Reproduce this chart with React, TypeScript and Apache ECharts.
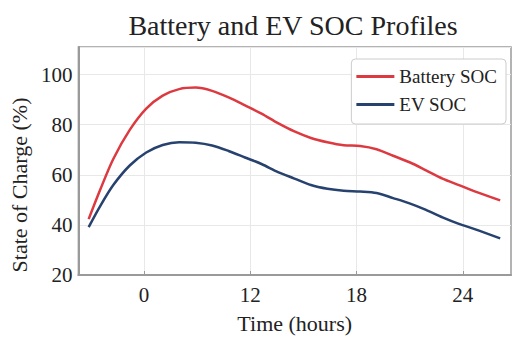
import React, { useEffect, useRef } from "react";
import * as echarts from "echarts";

const titleText = "Battery and EV SOC Profiles";
const xAxisName = "Time (hours)";
const yAxisName = "State of Charge (%)";
const seriesNames = ["Battery SOC", "EV SOC"];

// positions of the x ticks on the axis and the labels printed under them
const xTickValues = [6, 12, 18, 24];
const xTickLabels = ["0", "12", "18", "24"];

const timeHours = [2.87, 3.52, 4.26, 5.19, 6.12, 7.05, 7.98, 8.91, 9.84, 10.77, 11.7, 12.63, 13.56, 14.49, 15.42, 16.35, 17.27, 18.2, 19.13, 20.06, 20.99, 21.92, 22.85, 23.78, 24.71, 26.11];
const batterySoc = [42.3, 54.0, 66.3, 77.9, 86.4, 91.6, 94.2, 94.8, 93.5, 90.9, 87.7, 84.4, 80.6, 77.3, 74.7, 73.0, 71.8, 71.5, 70.2, 67.6, 65.0, 61.8, 58.5, 55.9, 53.3, 49.8];
const evSoc = [39.1, 47.5, 55.9, 63.7, 68.9, 71.9, 73.0, 72.8, 71.7, 69.5, 66.9, 64.3, 61.1, 58.5, 55.9, 54.4, 53.6, 53.3, 52.7, 50.7, 48.6, 46.0, 43.0, 40.4, 38.2, 34.6];

const FONT = "'Liberation Serif', 'DejaVu Serif', serif";
const RED = "#dc3a40";
const BLUE = "#27426f";

export default function App() {
  const ref = useRef<HTMLDivElement>(null);
  useEffect(() => {
    if (!ref.current) return;
    const chart = echarts.init(ref.current, null, { renderer: "svg" });
    chart.setOption({
      animation: false,
      backgroundColor: "#ffffff",
      title: {
        text: titleText,
        left: 288,
        top: 6,
        textAlign: "center",
        textStyle: { fontFamily: FONT, fontSize: 28, fontWeight: "normal", color: "#222" },
      },
      legend: {
        orient: "vertical",
        right: 9,
        top: 59,
        data: seriesNames,
        icon: "rect",
        itemWidth: 38,
        itemHeight: 3,
        itemGap: 9,
        padding: [8, 9, 10, 5],
        backgroundColor: "#ffffff",
        borderColor: "#cccccc",
        borderWidth: 1,
        borderRadius: 4,
        textStyle: { fontFamily: FONT, fontSize: 19, color: "#222" },
      },
      grid: {
        left: 73,
        right: 4,
        top: 47,
        bottom: 60,
        show: true,
        borderColor: "#9a9a9a",
        borderWidth: 1.5,
      },
      xAxis: {
        type: "value",
        min: 2.29,
        max: 26.72,
        name: xAxisName,
        nameLocation: "middle",
        nameGap: 37,
        nameTextStyle: { fontFamily: FONT, fontSize: 22, color: "#222" },
        axisLine: { show: true, lineStyle: { color: "#9a9a9a", width: 2 } },
        axisTick: { show: true, inside: true, length: 4, customValues: xTickValues, lineStyle: { color: "#9a9a9a" } },
        axisLabel: {
          customValues: xTickValues,
          margin: 9,
          fontFamily: FONT,
          fontSize: 21,
          color: "#222",
          formatter: (v: number) => {
            const i = xTickValues.indexOf(v);
            return i >= 0 ? xTickLabels[i] : "";
          },
        },
        splitLine: { show: true, lineStyle: { color: "#e8e8e8", width: 1 } },
      },
      yAxis: {
        type: "value",
        min: 20,
        max: 111,
        interval: 20,
        name: yAxisName,
        nameLocation: "middle",
        nameRotate: 90,
        nameGap: 42,
        nameTextStyle: { fontFamily: FONT, fontSize: 22, color: "#222", padding: [0, 48, 0, 0] },
        axisLine: { show: true, lineStyle: { color: "#9a9a9a", width: 2 } },
        axisTick: { show: false },
        axisLabel: {
          margin: 6,
          fontFamily: FONT,
          fontSize: 21,
          color: "#222",
          showMaxLabel: false,
        },
        splitLine: { show: true, lineStyle: { color: "#e8e8e8", width: 1 } },
      },
      series: [
        {
          name: seriesNames[0],
          type: "line",
          data: timeHours.map((t, i) => [t, batterySoc[i]]),
          smooth: 0.3,
          symbol: "none",
          lineStyle: { color: RED, width: 2.5 },
          itemStyle: { color: RED },
        },
        {
          name: seriesNames[1],
          type: "line",
          data: timeHours.map((t, i) => [t, evSoc[i]]),
          smooth: 0.3,
          symbol: "none",
          lineStyle: { color: BLUE, width: 2.5 },
          itemStyle: { color: BLUE },
        },
      ],
    });
    return () => chart.dispose();
  }, []);
  return <div ref={ref} style={{ width: 515, height: 339, position: "absolute", left: 0, top: 0 }} />;
}
